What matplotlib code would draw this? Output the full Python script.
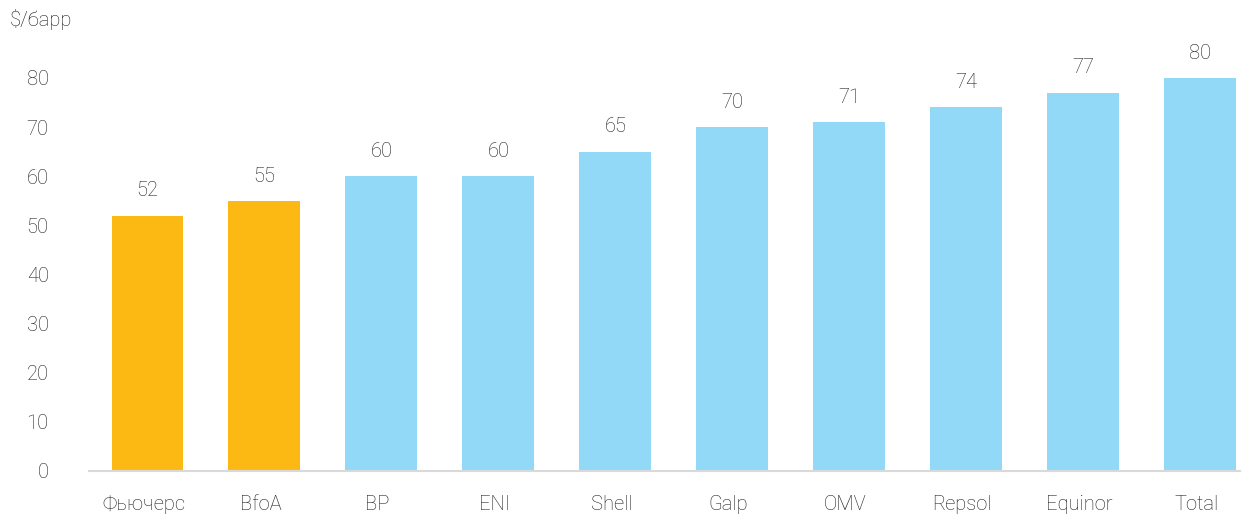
import matplotlib.pyplot as plt
import matplotlib.transforms as mtransforms
import numpy as np

plt.rcParams['font.family'] = ['Roboto', 'DejaVu Sans']
plt.rcParams['font.weight'] = 'light'

categories = ["Фьючерс", "BfoA", "BP", "ENI", "Shell", "Galp", "OMV", "Repsol", "Equinor", "Total"]
values = [52, 55, 60, 60, 65, 70, 71, 74, 77, 80]
highlight = [True, True, False, False, False, False, False, False, False, False]
y_ticks = [0, 10, 20, 30, 40, 50, 60, 70, 80]
unit_label = "$/барр"

orange = "#FDB913"
blue = "#92D9F8"
text_color = "#1c1c1c"
fs = 14.5

fig = plt.figure(figsize=(12.45, 5.14), dpi=100)
ax = fig.add_axes([89 / 1245, 1 - 471 / 514, (1240 - 89) / 1245, (471 - 78) / 514])

x = np.arange(len(categories))
colors = [orange if h else blue for h in highlight]
ax.bar(x, values, width=0.615, color=colors)

for xi, v in zip(x, values):
    ax.annotate(str(v), (xi, v), xytext=(0, 11), textcoords="offset points",
                ha="center", va="bottom", fontsize=fs, color=text_color,
                fontweight="light", annotation_clip=False)

ax.set_xlim(-0.5, 9.34)
ax.set_ylim(0, 80)
ax.set_yticks(y_ticks)
ax.set_xticks(x)
ax.set_xticklabels(categories)
ax.tick_params(axis="both", length=0, labelsize=fs, labelcolor=text_color)
ax.tick_params(axis="y", pad=29)
ax.tick_params(axis="x", pad=17)

# labels in the original sit a few pixels left of the bar centres
shift = mtransforms.ScaledTranslation(-4 / 100, 0, fig.dpi_scale_trans)
for lbl in ax.get_xticklabels():
    lbl.set_transform(lbl.get_transform() + shift)

for s in ["top", "right", "left"]:
    ax.spines[s].set_visible(False)
ax.spines["bottom"].set_color("#d9d9d9")
ax.spines["bottom"].set_linewidth(1.5)

fig.text(10 / 1245, 1 - 20 / 514, unit_label, ha="left", va="center",
         fontsize=fs, color=text_color, fontweight="light")

fig.savefig("out.png", dpi=100)
